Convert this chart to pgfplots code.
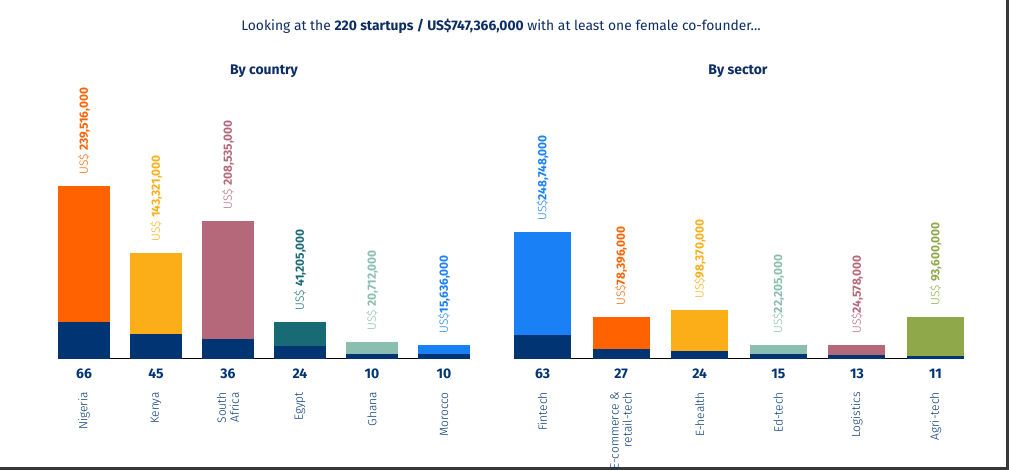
\documentclass[border=0pt]{standalone}
\usepackage{pgfplots}
\pgfplotsset{compat=1.18}
\usepackage{graphicx}
\usepackage{fontspec}
\setmainfont{Fira Sans}
\newfontfamily\lightfont{Fira Sans Light}
\definecolor{navy}{RGB}{0,52,115}
\definecolor{titlenavy}{RGB}{12,44,100}
\definecolor{corange}{RGB}{255,98,0}
\definecolor{cyellow}{RGB}{251,174,23}
\definecolor{cmauve}{RGB}{181,104,122}
\definecolor{cteal}{RGB}{24,106,117}
\definecolor{cltteal}{RGB}{138,190,175}
\definecolor{cblue}{RGB}{26,128,245}
\definecolor{colive}{RGB}{143,168,74}
\definecolor{baseline}{RGB}{125,140,165}
\definecolor{framegray}{RGB}{55,55,55}

\newcommand\bw{52bp}
\newcommand\us{{\lightfont US\$}}
% #1 x, #2 bar height, #3 dark height, #4 colour, #5 label text, #6 name
\newcommand\mybar[6]{%
  \addplot[ybar, bar width=\bw, bar shift=0pt, fill=#4, draw=none,
    nodes near coords={\rotatebox{90}{\textcolor{#4}{#5}}},
    every node near coord/.append style={inner sep=0pt, yshift=11.5bp, font=\fontsize{12}{14}\selectfont}]
    coordinates {(#1,#2)};
  \addplot[ybar, bar width=\bw, bar shift=0pt, fill=navy, draw=none] coordinates {(#1,#3)};
  \node[rotate=90, anchor=east, align=right, inner sep=0pt, text=navy,
        font=\lightfont\fontsize{12}{13}\selectfont] at (axis cs:#1,-33) {#6};
}

\pgfplotsset{
  panel/.style={
    scale only axis, anchor=south west, clip=false,
    xmin=-0.5, xmax=5.5, ymin=0, ymax=200, height=200bp,
    axis line style={draw=none}, ytick=\empty,
    xtick={0,1,2,3,4,5}, major tick length=0pt,
    xticklabel style={anchor=center, yshift=-15bp, inner sep=0pt, text=navy,
      font=\bfseries\fontsize{14}{16}\selectfont},
  }
}

\begin{document}
\begin{tikzpicture}[x=1bp,y=1bp]
\path[use as bounding box] (0,0) rectangle (1009,470);
\fill[framegray] (1006,0) rectangle (1009,470);
\fill[framegray] (0,0) rectangle (1009,2.5);

\node[text=titlenavy, font=\fontsize{13.9}{16}\selectfont] at (501,444)
  {Looking at the \textbf{220 startups / US\$747,366,000} with at least one female co-founder...};
\node[text=titlenavy, font=\bfseries\fontsize{14}{16}\selectfont] at (264,399) {By country};
\node[text=titlenavy, font=\bfseries\fontsize{14}{16}\selectfont] at (738,399) {By sector};

\begin{axis}[panel, at={(48bp,111bp)}, width=432bp,
  xticklabels={66,45,36,24,10,10}]
\renewcommand\bw{52bp}
\draw[baseline, line width=1bp] (axis cs:-0.361,0) -- (axis cs:5.361,0);
\mybar{0}{173}{37}{corange}{\us{} \textbf{239,516,000}}{Nigeria}
\mybar{1}{106}{25}{cyellow}{\us{} \textbf{143,321,000}}{Kenya}
\mybar{2}{138}{20}{cmauve}{\us{} \textbf{208,535,000}}{South\\Africa}
\mybar{3}{37}{13}{cteal}{\us{} \textbf{41,205,000}}{Egypt}
\mybar{4}{17}{5}{cltteal}{\us{} \textbf{20,712,000}}{Ghana}
\mybar{5}{14}{5}{cblue}{\us\textbf{15,636,000}}{Morocco}
\end{axis}

\begin{axis}[panel, at={(503.2bp,111bp)}, width=471.6bp,
  xticklabels={63,27,24,15,13,11}]
\renewcommand\bw{57bp}
\draw[baseline, line width=1bp] (axis cs:-0.363,0) -- (axis cs:5.363,0);
\mybar{0}{127}{24}{cblue}{\us\textbf{248,748,000}}{Fintech}
\mybar{1}{42}{10}{corange}{\us\textbf{78,396,000}}{E-commerce \&\\retail-tech}
\mybar{2}{49}{8}{cyellow}{\us\textbf{98,370,000}}{E-health}
\mybar{3}{14}{5}{cltteal}{\us\textbf{22,205,000}}{Ed-tech}
\mybar{4}{14}{4}{cmauve}{\us\textbf{24,578,000}}{Logistics}
\mybar{5}{42}{3}{colive}{\us{} \textbf{93,600,000}}{Agri-tech}
\end{axis}
\end{tikzpicture}
\end{document}
